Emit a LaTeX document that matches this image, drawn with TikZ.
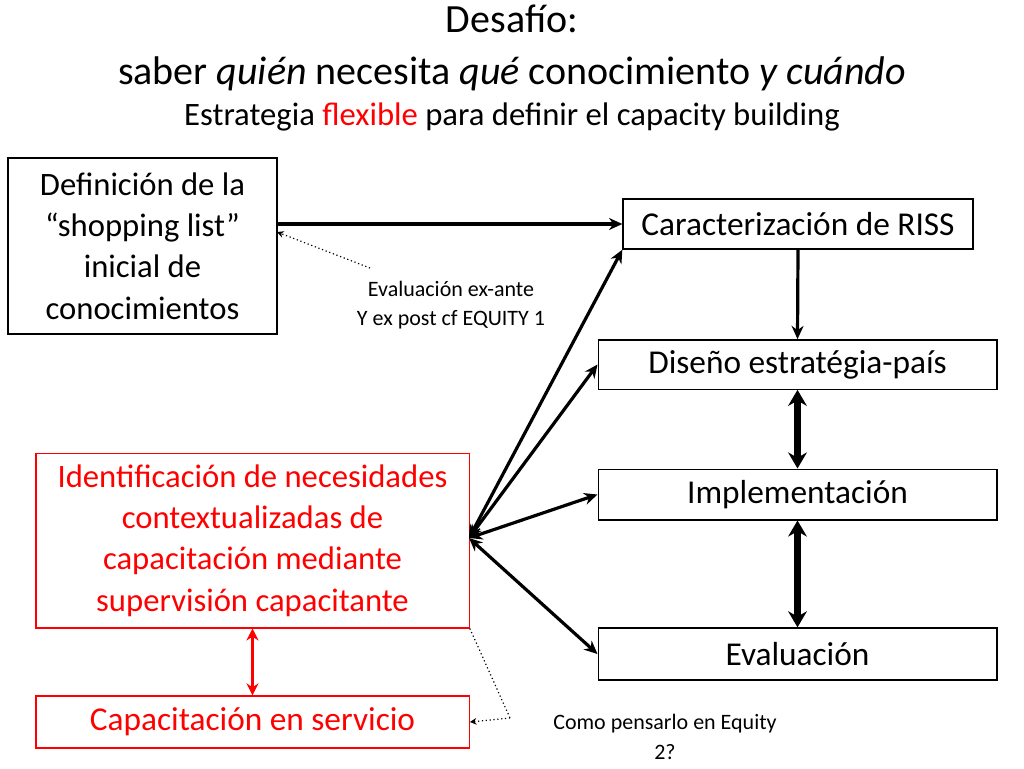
\documentclass[tikz,border=0pt]{standalone}
\usepackage{fontspec}
\setmainfont{Carlito}
\usetikzlibrary{arrows.meta}
\begin{document}
\begin{tikzpicture}[x=0.75pt,y=-0.75pt,
  box/.style={draw,line width=1pt,inner sep=0pt,align=center,font=\fontsize{25}{30}\selectfont},
  thk/.style={line width=2.4pt,-{Stealth[length=10pt,width=9pt]}},
  bth/.style={line width=2.4pt,{Stealth[length=10pt,width=9pt]}-{Stealth[length=10pt,width=9pt]}},
  dbl/.style={line width=5pt,{Stealth[length=12pt,width=14pt]}-{Stealth[length=12pt,width=14pt]}},
  dot/.style={dotted,line width=0.9pt,-{Stealth[length=5pt,width=5pt]}},
  lbl/.style={align=center,font=\fontsize{16.5}{22}\selectfont}]
\useasboundingbox (0,0) rectangle (1024,768);
\node[align=center,font=\fontsize{30}{39}\selectfont] (t1) at (512,48) {Desafío:\\saber \textit{quién} necesita \textit{qué} conocimiento \textit{y cuándo}};
\node[font=\fontsize{24.5}{24}\selectfont] (t2) at (512,117) {Estrategia \textcolor{red}{flexible} para definir el capacity building};
\node[box,minimum width=201.75pt,minimum height=132pt,font=\fontsize{24.5}{31}\selectfont] (shop) at (142.5,246) {Definición de la\\“shopping list”\\inicial de\\conocimientos};
\node[box,minimum width=262.5pt,minimum height=37.5pt] (car) at (798,224) {Caracterización de RISS};
\node[box,minimum width=299pt,minimum height=37pt] (dis) at (797.5,364.5) {Diseño estratégia-país};
\node[box,minimum width=299pt,minimum height=38pt] (imp) at (797.5,494.5) {Implementación};
\node[box,minimum width=299pt,minimum height=39pt] (eva) at (797.5,654) {Evaluación};
\node[box,draw=red,text=red,minimum width=325pt,minimum height=131pt,font=\fontsize{24.5}{31}\selectfont] (ide) at (252.5,540.5) {Identificación de necesidades\\contextualizadas de\\capacitación mediante\\supervisión capacitante};
\node[box,draw=red,text=red,minimum width=325pt,minimum height=39pt] (cap) at (252.5,722) {Capacitación en servicio};
\node[lbl] (l1) at (451,305) {Evaluación ex-ante\\Y ex post cf EQUITY 1};
\node[lbl] (l2) at (665,737) {Como pensarlo en Equity\\2?};
\coordinate (hub) at (469,538);
\coordinate (d1) at (370,268);
\coordinate (d2) at (510,718);
\draw[thk] (shop.east |- car) -- (car.west);
\draw[thk] (car.south) -- (dis.north);
\draw[dbl] (dis.south) -- (imp.north);
\draw[dbl] (imp.south) -- (eva.north);
\draw[bth] (hub) -- (car.south west);
\draw[bth] (hub) -- (dis.west);
\draw[bth] (hub) -- (imp.west);
\draw[bth] (hub) -- (eva.west);
\draw[line width=2.4pt,red,{Stealth[length=9pt,width=9pt]}-{Stealth[length=9pt,width=9pt]}] (ide.south) -- (cap.north);
\draw[dot] (d1) -- (277,232);
\draw[dotted,line width=0.9pt] (ide.south east) -- (d2);
\draw[dot] (d2) -- (cap.east);
\end{tikzpicture}
\end{document}
